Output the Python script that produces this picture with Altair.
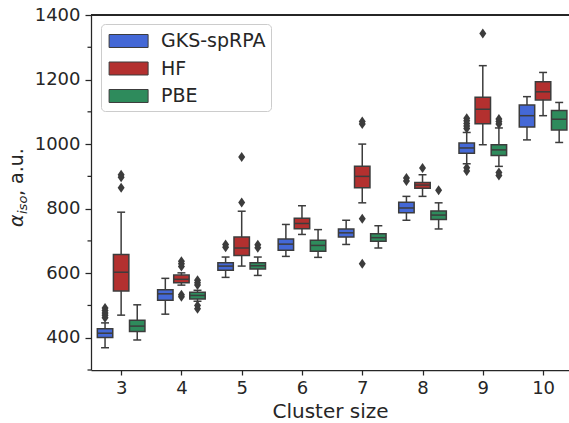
import altair as alt
import pandas as pd

sizes = [3, 4, 5, 6, 7, 8, 9, 10]
methods = ["GKS-spRPA", "HF", "PBE"]
colors = ["#4468d6", "#b3302f", "#2e8b5c"]
y_major = [400, 600, 800, 1000, 1200, 1400]
y_minor = [300, 500, 700, 900, 1100, 1300]
ytitle_parts = ["α", "iso", ", a.u."]

# box statistics per method (a.u.)
gks_lo = [369, 473, 587, 652, 689, 764, 939, 1013]
gks_q1 = [401, 516, 609, 671, 712, 787, 972, 1053]
gks_med = [414, 536, 622, 690, 725, 802, 988, 1088]
gks_q3 = [428, 549, 632, 706, 737, 820, 1003, 1121]
gks_hi = [446, 584, 650, 751, 764, 838, 1036, 1147]
gks_out = [[492, 484, 477, 470, 462], [], [689, 680], [], [], [895, 886],
           [1080, 1072, 1064, 1056, 1048, 927, 917], []]

hf_lo = [470, 563, 622, 720, 818, 838, 998, 1088]
hf_q1 = [545, 570, 655, 738, 865, 863, 1063, 1137]
hf_med = [603, 581, 678, 754, 900, 873, 1108, 1162]
hf_q3 = [658, 594, 712, 770, 931, 881, 1145, 1193]
hf_hi = [789, 601, 792, 809, 1000, 905, 1243, 1222]
hf_out = [[905, 897, 865], [637, 629, 621, 533, 527], [960, 819], [],
          [1070, 1062, 769, 629], [926], [1343], []]

pbe_lo = [393, 513, 593, 649, 678, 737, 931, 1005]
pbe_q1 = [419, 520, 613, 668, 699, 766, 965, 1044]
pbe_med = [436, 531, 623, 686, 710, 780, 982, 1077]
pbe_q3 = [454, 541, 632, 702, 722, 793, 998, 1104]
pbe_hi = [502, 547, 650, 735, 747, 818, 1050, 1129]
pbe_out = [[], [578, 570, 563, 500, 490], [688, 679], [], [], [857],
           [1078, 1070, 1062, 912, 903], []]

stats = {
    "GKS-spRPA": (gks_lo, gks_q1, gks_med, gks_q3, gks_hi, gks_out),
    "HF": (hf_lo, hf_q1, hf_med, hf_q3, hf_hi, hf_out),
    "PBE": (pbe_lo, pbe_q1, pbe_med, pbe_q3, pbe_hi, pbe_out),
}
offset = {"GKS-spRPA": -0.267, "HF": 0.0, "PBE": 0.267}
half_box = 0.128
half_cap = 0.066

rows, orows = [], []
for m in methods:
    lo, q1, med, q3, hi, out = stats[m]
    for i, s in enumerate(sizes):
        xc = s + offset[m]
        rows.append(dict(method=m, xc=xc, xl=xc - half_box, xr=xc + half_box,
                         cl=xc - half_cap, cr=xc + half_cap,
                         lo=lo[i], q1=q1[i], med=med[i], q3=q3[i], hi=hi[i]))
        for v in out[i]:
            orows.append(dict(method=m, xc=xc, v=v))
df = pd.DataFrame(rows)
dfo = pd.DataFrame(orows)
dfm = pd.DataFrame({"t": y_minor})

W, H = 478, 355
edge = "#3c3c3c"
ink = "#262626"

xscale = alt.Scale(domain=[2.5, 10.43], nice=False, zero=False)
yscale = alt.Scale(domain=[300, 1400], nice=False, zero=False)

xaxis = alt.Axis(values=sizes, format="d", title="Cluster size", grid=False,
                 tickSize=5, labelPadding=4, titlePadding=4)
yaxis = alt.Axis(values=y_major, format="d", tickSize=6, title=None,
                 grid=False, labelPadding=5)

base = alt.Chart(df)

whisk = base.mark_rule(color=edge, strokeWidth=1.5).encode(
    x=alt.X("xc:Q", scale=xscale, axis=xaxis),
    y=alt.Y("lo:Q", scale=yscale, axis=yaxis),
    y2="hi:Q",
)
cap_lo = base.mark_rule(color=edge, strokeWidth=1.5).encode(
    x="cl:Q", x2="cr:Q", y="lo:Q")
cap_hi = base.mark_rule(color=edge, strokeWidth=1.5).encode(
    x="cl:Q", x2="cr:Q", y="hi:Q")

legend = alt.Legend(
    title=None, orient="none", legendX=10, legendY=9,
    strokeColor="#cccccc", fillColor="white", cornerRadius=4, padding=5,
    symbolType="M-0.774,-0.565H2.617V0.565H-0.774Z", symbolSize=529,
    symbolStrokeColor=edge, symbolStrokeWidth=1, symbolOpacity=1,
    labelFontSize=19, labelOffset=31, rowPadding=5.5, labelColor=ink,
)
box = base.mark_rect(stroke=edge, strokeWidth=1.5, opacity=1).encode(
    x="xl:Q", x2="xr:Q", y="q1:Q", y2="q3:Q",
    fill=alt.Fill("method:N", scale=alt.Scale(domain=methods, range=colors), legend=legend),
)
median = base.mark_rule(color=edge, strokeWidth=1.5).encode(
    x="xl:Q", x2="xr:Q", y="med:Q")

outl = alt.Chart(dfo).mark_point(
    shape="M0,-1L0.7,0L0,1L-0.7,0Z", size=100, filled=True, color=edge, opacity=1
).encode(x="xc:Q", y="v:Q")

minor = alt.Chart(dfm).mark_rule(color=ink, strokeWidth=1.25).encode(
    y="t:Q", x=alt.value(-3.5), x2=alt.value(0))

top = alt.Chart(df).mark_rule(color=ink, strokeWidth=1.25).encode(
    x=alt.value(0), x2=alt.value(W), y=alt.value(0))

# y-axis title built from pieces (italic alpha with subscript "iso")
t_alpha = alt.Chart(pd.DataFrame({"s": [ytitle_parts[0]]})).mark_text(
    angle=270, align="left", baseline="alphabetic", fontSize=19,
    fontStyle="italic", color=ink, font="DejaVu Sans",
).encode(text="s:N", x=alt.value(-68), y=alt.value(212))
t_sub = alt.Chart(pd.DataFrame({"s": [ytitle_parts[1]]})).mark_text(
    angle=270, align="left", baseline="alphabetic", fontSize=13,
    fontStyle="italic", color=ink, font="DejaVu Sans",
).encode(text="s:N", x=alt.value(-64), y=alt.value(199))
t_rest = alt.Chart(pd.DataFrame({"s": [ytitle_parts[2]]})).mark_text(
    angle=270, align="left", baseline="alphabetic", fontSize=19,
    color=ink, font="DejaVu Sans",
).encode(text="s:N", x=alt.value(-68), y=alt.value(181))

chart = alt.layer(whisk, cap_lo, cap_hi, box, median, outl, minor, top,
                  t_alpha, t_sub, t_rest).properties(
    width=W, height=H,
    padding={"left": 91, "top": 15, "right": 0, "bottom": 53},
    autosize=alt.AutoSizeParams(type="none"),
).configure_view(stroke=None).configure(font="DejaVu Sans").configure_axis(
    domainColor=ink, domainWidth=1.25, tickColor=ink, tickWidth=1.25,
    labelFontSize=18, labelColor=ink, titleFontSize=20, titleColor=ink,
    titleFontWeight="normal",
)

chart.save("out.html", embed_options={"renderer": "svg", "actions": False})
